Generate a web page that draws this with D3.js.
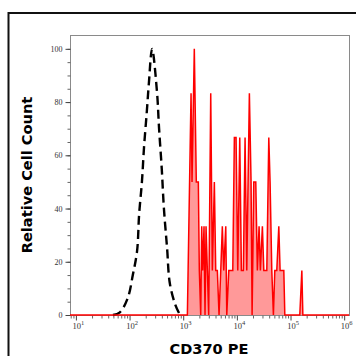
<!DOCTYPE html>
<html>
<head>
<meta charset="utf-8">
<script src="https://cdn.jsdelivr.net/npm/d3@7"></script>
<style>
  html, body { margin: 0; padding: 0; background: #fff; }
  svg { display: block; }
</style>
</head>
<body>
<div id="chart"></div>
<script>
// Isotype control (dashed black) — fluorescence intensity vs relative count (%)
const isoX = [49, 66, 93, 115, 138, 151, 170, 186, 209, 229, 263, 324, 355, 398, 437, 501, 562, 708, 871];
const isoY = [0, 1, 6.5, 15, 24, 38, 50, 63, 76, 87, 100, 84, 70, 55, 40, 25, 12, 4, 0];

// CD370 PE stained sample (red, filled)
const cdX = [1195, 1400, 1460, 1610, 1755, 1914, 1997, 2120, 2213, 2309, 2443, 2551, 2663, 2818, 2985,
  3258, 3491, 3805, 4038, 4326, 4656, 5008, 5361, 5698, 6211, 6486, 7069, 8390, 8980, 9660,
  10390, 11330, 12140, 13220, 14220, 15300, 17110, 18400, 19230, 20660, 22520, 24110, 25940, 27420,
  29910, 31770, 34040, 36140, 39370, 41610, 44770, 47970, 50920, 55460, 60500, 63980, 68850, 75010,
  78300, 148900, 162600, 169800];
const cdY = [0, 83.3, 50, 100, 50, 50, 16.7, 0, 33.3, 16.7, 33.3, 0, 33.3, 16.7, 0,
  83.3, 16.7, 50, 16.7, 16.7, 0, 16.7, 33.3, 16.7, 33.3, 0, 16.7, 16.7, 66.7, 66.7,
  16.7, 66.7, 16.7, 16.7, 66.7, 16.7, 83.3, 50, 0, 50, 50, 16.7, 33.3, 16.7,
  33.3, 16.7, 16.7, 16.7, 66.7, 50, 16.7, 0, 16.7, 16.7, 33.3, 16.7, 16.7, 16.7,
  0, 0, 16.7, 0];

const yTicks = [0, 20, 40, 60, 80, 100];
const xDecades = [1, 2, 3, 4, 5, 6];

const W = 356, H = 356;
const mLeft = 70, mRight = 349, mTop = 35, mBottom = 315;

const svg = d3.select('#chart').append('svg')
  .attr('width', W).attr('height', H);

// outer frame (runs off the picture to the right and bottom)
svg.append('rect')
  .attr('x', 8.5).attr('y', 13)
  .attr('width', 400).attr('height', 400)
  .attr('fill', 'none')
  .attr('stroke', '#111')
  .attr('stroke-width', 2);

const xMin = Math.pow(10, 0.89), xMax = Math.pow(10, 6.09);
const x = d3.scaleLog().domain([xMin, xMax]).range([mLeft, mRight]);
const y = d3.scaleLinear().domain([0, 105.2]).range([mBottom, mTop]);

// plot box
svg.append('rect')
  .attr('x', mLeft + 0.5).attr('y', mTop + 0.5)
  .attr('width', mRight - mLeft).attr('height', mBottom - mTop)
  .attr('fill', 'none')
  .attr('stroke', '#8a8a8a')
  .attr('stroke-width', 1);

// y axis: minor then major ticks
const yMinor = d3.range(0, 101, 5);
svg.append('g')
  .attr('transform', `translate(${mLeft + 0.5},0)`)
  .call(d3.axisLeft(y).tickValues(yMinor).tickSize(3).tickFormat(''))
  .call(g => g.select('.domain').remove())
  .call(g => g.selectAll('line').attr('stroke', '#666'));

svg.append('g')
  .attr('transform', `translate(${mLeft + 0.5},0)`)
  .call(d3.axisLeft(y).tickValues(yTicks).tickSize(5).tickPadding(3))
  .call(g => g.select('.domain').remove())
  .call(g => g.selectAll('line').attr('stroke', '#444'))
  .call(g => g.selectAll('text')
    .attr('font-family', '"Liberation Serif", "DejaVu Serif", serif')
    .attr('font-size', 8)
    .attr('fill', '#333'));

// x axis: minor ticks 2..9 per decade, major ticks at decades
const xMinor = [];
for (let e = 0; e <= 6; e++) {
  for (let m = 2; m <= 9; m++) {
    const v = m * Math.pow(10, e);
    if (v > xMin && v < xMax) xMinor.push(v);
  }
}
const xMajor = xDecades.map(e => Math.pow(10, e));

svg.append('g')
  .attr('transform', `translate(0,${mBottom + 0.5})`)
  .call(d3.axisBottom(x).tickValues(xMinor).tickSize(3).tickFormat(''))
  .call(g => g.select('.domain').remove())
  .call(g => g.selectAll('line').attr('stroke', '#666'));

const xAx = svg.append('g')
  .attr('transform', `translate(0,${mBottom + 0.5})`)
  .call(d3.axisBottom(x).tickValues(xMajor).tickSize(5).tickFormat(''))
  .call(g => g.select('.domain').remove())
  .call(g => g.selectAll('line').attr('stroke', '#444'));

xAx.selectAll('.tick').append('text')
  .attr('x', 2)
  .attr('y', 13.5)
  .attr('text-anchor', 'middle')
  .attr('font-family', '"Liberation Serif", "DejaVu Serif", serif')
  .attr('font-size', 8.5)
  .attr('fill', '#333')
  .each(function(d, i) {
    const t = d3.select(this);
    t.append('tspan').text('10');
    t.append('tspan').attr('dy', -4.5).attr('font-size', 6.5).text(xDecades[i]);
  });

// isotype control, dashed
const isoLine = d3.line()
  .x((d, i) => x(isoX[i]))
  .y((d, i) => y(isoY[i]))
  .curve(d3.curveCatmullRom.alpha(0.5));

svg.append('path')
  .attr('d', isoLine(isoX))
  .attr('fill', 'none')
  .attr('stroke', '#000')
  .attr('stroke-width', 2.4)
  .attr('stroke-dasharray', '9,5');

// stained sample, filled
const cdPts = [[xMin, 0]].concat(cdX.map((v, i) => [v, cdY[i]]), [[xMax, 0]]);

svg.append('path')
  .attr('d', d3.area().x(d => x(d[0])).y0(y(0)).y1(d => y(d[1]))(cdPts))
  .attr('fill', 'rgba(255,0,0,0.4)')
  .attr('stroke', 'none');

svg.append('path')
  .attr('d', d3.line().x(d => x(d[0])).y(d => y(d[1]))(cdPts))
  .attr('fill', 'none')
  .attr('stroke', '#f00')
  .attr('stroke-width', 1.5)
  .attr('stroke-linejoin', 'miter');

// axis titles
svg.append('text')
  .attr('transform', 'translate(31.5,175) rotate(-90)')
  .attr('text-anchor', 'middle')
  .attr('font-family', '"DejaVu Sans", sans-serif')
  .attr('font-weight', 'bold')
  .attr('font-size', 14.6)
  .attr('fill', '#000')
  .text('Relative Cell Count');

svg.append('text')
  .attr('x', 209).attr('y', 353.5)
  .attr('text-anchor', 'middle')
  .attr('font-family', '"DejaVu Sans", sans-serif')
  .attr('font-weight', 'bold')
  .attr('font-size', 14.6)
  .attr('fill', '#000')
  .text('CD370 PE');
</script>
</body>
</html>
